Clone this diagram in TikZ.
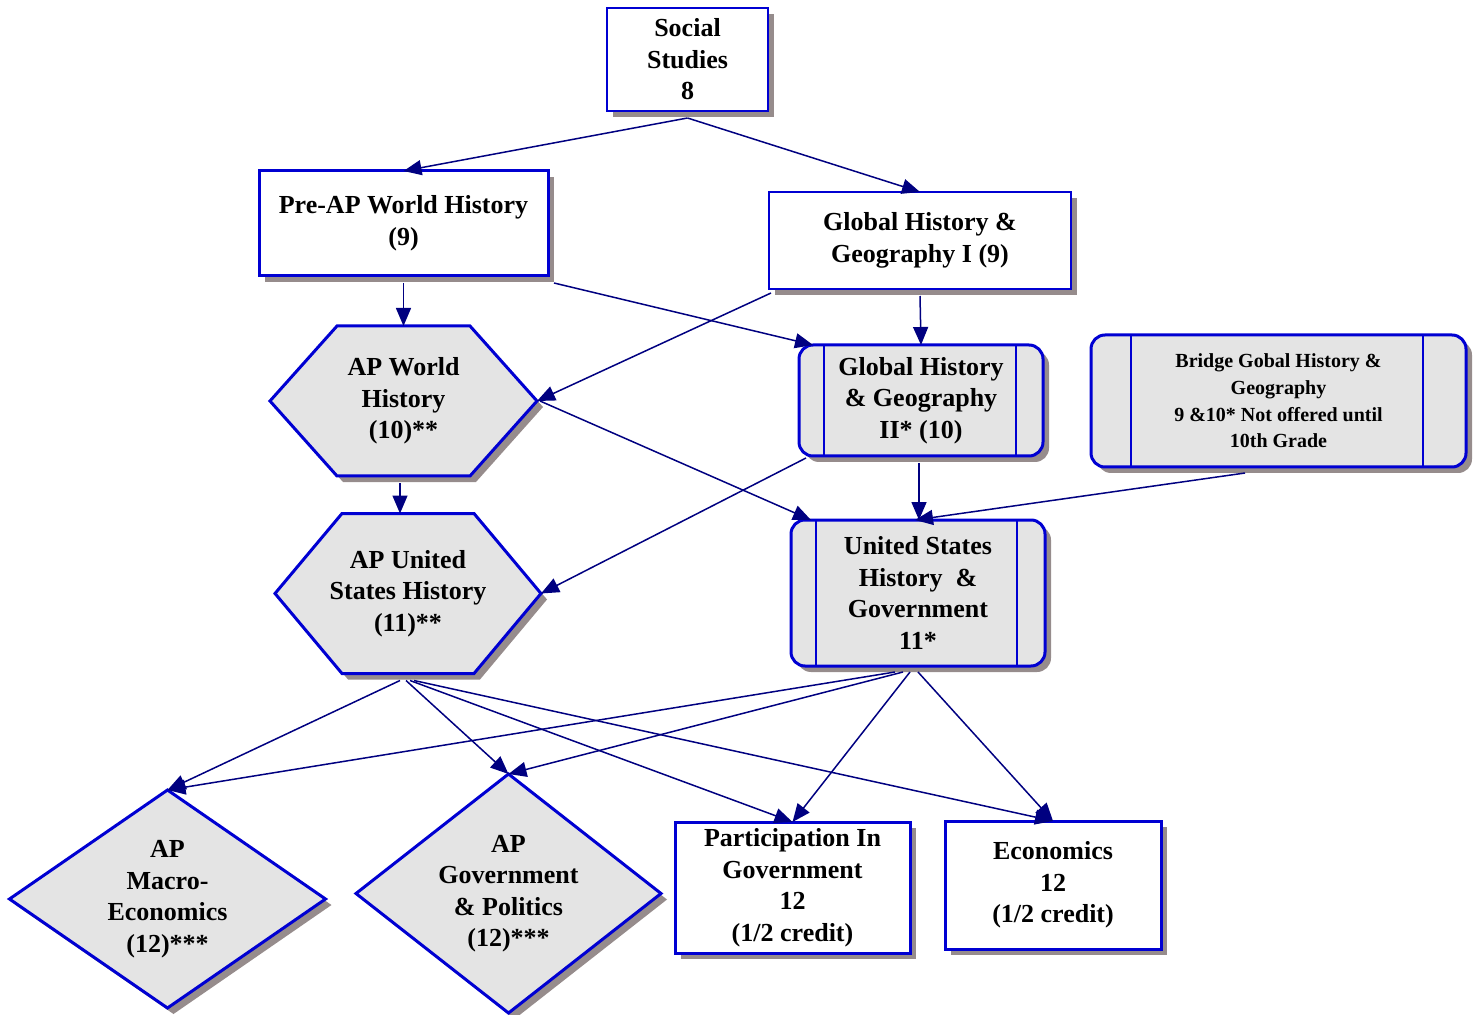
\documentclass[tikz,border=0pt]{standalone}
\usepackage{fontspec}
\setmainfont{Liberation Serif}
\usetikzlibrary{arrows.meta,shapes.geometric,shadows,backgrounds}
\definecolor{bblue}{RGB}{0,0,210}
\definecolor{navy}{RGB}{0,0,128}
\definecolor{shgray}{RGB}{150,140,140}
\definecolor{hatch}{RGB}{228,228,228}
\tikzset{
  lbl/.style={font=\fontsize{13}{15.75}\selectfont\bfseries, align=center, inner sep=0pt, outer sep=0pt},
  shd/.style={drop shadow={shadow xshift=3pt, shadow yshift=-3pt, fill=shgray, opacity=1}},
  plainbox/.style={lbl, rectangle, draw=bblue, fill=white, shd},
  thinbox/.style={plainbox, line width=0.75pt},
  thickbox/.style={plainbox, line width=1.5pt},
  procbox/.style={lbl, rectangle, rounded corners=7pt, draw=bblue, fill=hatch, line width=1.5pt, shd},
  innerline/.style={draw=bblue, line width=1pt},
  hexshape/.style={draw=bblue, fill=hatch, line width=1.5pt, shd, line join=miter},
  dia/.style={lbl, diamond, draw=bblue, fill=hatch, line width=1.5pt, shd},
  conn/.style={draw=navy, line width=0.75pt, -{Triangle[length=9pt,width=7.5pt]}},
}
\begin{document}
\begin{tikzpicture}[x=0.5pt,y=-0.5pt]
\useasboundingbox (0,0) rectangle (1476,1015);

% nodes
\node[thinbox, minimum width=80.5pt, minimum height=51.5pt] (soc) at (687.5,59.5) {Social\\Studies\\8};
\node[thickbox, minimum width=144.5pt, minimum height=52.5pt] (pre) at (403.5,223.5) {Pre-AP World History\\(9)};
\node[thinbox, minimum width=151pt, minimum height=48.5pt] (g1) at (920,240.5) {Global History \&\\Geography I (9)};
\node[procbox, minimum width=122pt, minimum height=55.5pt] (g2) at (921,400.5) {Global History\\\& Geography\\II* (10)};
\node[procbox, minimum width=187.5pt, minimum height=66pt, font=\fontsize{10}{13.3}\selectfont\bfseries] (br) at (1278.5,401) {Bridge Gobal History \&\\Geography\\9 \&10* Not offered until\\10th Grade};
\node[procbox, minimum width=127pt, minimum height=73pt] (ush) at (918,593) {United States\\History~~\&\\Government\\11*};
\node[lbl, minimum width=133.5pt, minimum height=75pt] (aw) at (403.5,401) {AP World\\History\\(10)**};
\node[lbl, minimum width=133pt, minimum height=80pt] (aus) at (408,593.5) {AP United\\States History\\(11)**};
\node[dia, aspect=1.45, minimum width=158pt, minimum height=109pt] (mac) at (167.5,899) {AP\\Macro-\\Economics\\(12)***};
\node[dia, aspect=1.28, minimum width=152.5pt, minimum height=119.5pt] (gov) at (508.5,893.5) {AP\\Government\\\& Politics\\(12)***};
\node[thickbox, minimum width=117.5pt, minimum height=65.5pt] (par) at (792.5,887.5) {Participation In\\Government\\12\\(1/2 credit)};
\node[thickbox, minimum width=108pt, minimum height=64pt] (eco) at (1053,885) {Economics\\12\\(1/2 credit)};

% hexagons
\begin{scope}[on background layer]
\path[hexshape] (aw.west) -- ([xshift=33.5pt]aw.north west) -- ([xshift=-33.5pt]aw.north east) -- (aw.east) -- ([xshift=-33.5pt]aw.south east) -- ([xshift=33.5pt]aw.south west) -- cycle;
\path[hexshape] (aus.west) -- ([xshift=33.5pt]aus.north west) -- ([xshift=-33.5pt]aus.north east) -- (aus.east) -- ([xshift=-33.5pt]aus.south east) -- ([xshift=33.5pt]aus.south west) -- cycle;
\end{scope}

% inner lines of process boxes
\draw[innerline] ([xshift=12.5pt]g2.north west) -- ([xshift=12.5pt]g2.south west);
\draw[innerline] ([xshift=-13.5pt]g2.north east) -- ([xshift=-13.5pt]g2.south east);
\draw[innerline] ([xshift=20pt]br.north west) -- ([xshift=20pt]br.south west);
\draw[innerline] ([xshift=-21.5pt]br.north east) -- ([xshift=-21.5pt]br.south east);
\draw[innerline] ([xshift=12.5pt]ush.north west) -- ([xshift=12.5pt]ush.south west);
\draw[innerline] ([xshift=-14pt]ush.north east) -- ([xshift=-14pt]ush.south east);

% connectors
\draw[conn] ([yshift=-3.5pt]soc.south) -- (pre.north);
\draw[conn] ([yshift=-3.5pt]soc.south) -- (g1.north);
\draw[conn] ([yshift=-3.5pt]pre.south) -- (aw.north);
\draw[conn] ([xshift=3pt,yshift=-3.5pt]pre.south east) -- ([xshift=7pt]g2.north west);
\draw[conn] ([xshift=1pt,yshift=-2pt]g1.south west) -- (aw.east);
\draw[conn] ([yshift=-3.5pt]g1.south) -- (g2.north);
\draw[conn] ([xshift=1.5pt]aw.east) -- ([xshift=10pt]ush.north west);
\draw[conn] ([xshift=-1.75pt,yshift=-3.5pt]aw.south) -- ([xshift=-1.75pt]aw.south |- aus.north);
\draw[conn] ([xshift=3.5pt,yshift=-1pt]g2.south west) -- (aus.east);
\draw[conn] ([xshift=-1pt,yshift=-3.5pt]g2.south) -- ([xshift=-1pt]g2.south |- ush.north);
\draw[conn] ([xshift=-16.75pt,yshift=-3pt]br.south) -- ([xshift=-1.5pt]ush.north);
\draw[conn] ([xshift=-4pt,yshift=-3.5pt]aus.south) -- (mac.north);
\draw[conn] ([xshift=-1pt,yshift=-3.5pt]aus.south) -- (gov.north);
\draw[conn] ([xshift=1pt,yshift=-3.5pt]aus.south) -- (par.north);
\draw[conn] ([xshift=3pt,yshift=-3.5pt]aus.south) -- (eco.north);
\draw[conn] ([xshift=-11.5pt,yshift=-3pt]ush.south) -- (mac.north);
\draw[conn] ([xshift=-7.5pt,yshift=-3pt]ush.south) -- (gov.north);
\draw[conn] ([xshift=-4pt,yshift=-3pt]ush.south) -- (par.north);
\draw[conn] ([yshift=-3pt]ush.south) -- (eco.north);
\end{tikzpicture}
\end{document}
